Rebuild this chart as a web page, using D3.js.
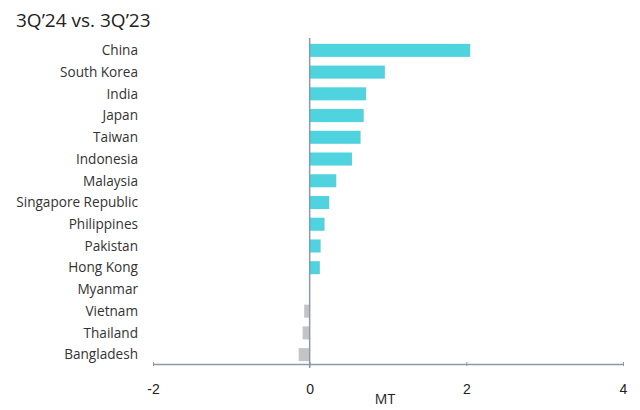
<head>
	<meta charset="utf-8">
	<script src="https://d3js.org/d3.v7.min.js"></script>
	<style type="text/css">
		body { margin: 0; background: #fff; }
		text { font-family: 'Open Sans', 'Noto Sans', sans-serif; }
	</style>
</head>
<body>
	<script type="text/javascript">
		const countries = ['China', 'South Korea', 'India', 'Japan', 'Taiwan', 'Indonesia', 'Malaysia',
			'Singapore Republic', 'Philippines', 'Pakistan', 'Hong Kong', 'Myanmar', 'Vietnam', 'Thailand', 'Bangladesh']
		const change = [2.05, 0.96, 0.72, 0.69, 0.65, 0.54, 0.34, 0.25, 0.19, 0.14, 0.13, 0, -0.07, -0.09, -0.14]
		const xTicks = [-2, 0, 2, 4]

		const data = countries.map((c, i) => ({country: c, value: change[i]}))

		const svg = d3.select('body').append('svg')
			.attr('width', 640)
			.attr('height', 410)

		const x = d3.scaleLinear().domain([-2, 4]).range([153, 623])
		const y = d3.scaleBand().domain(countries).range([39.5, 365.5]).paddingInner(0.4).paddingOuter(0.2)

		svg.append('text')
			.attr('x', 16).attr('y', 27)
			.attr('font-size', 19)
			.attr('fill', '#222')
			.text('3Q\u201924 vs. 3Q\u201923')

		svg.append('g').selectAll('rect')
			.data(data)
			.enter().append('rect')
			.attr('x', d => x(Math.min(0, d.value)))
			.attr('y', d => y(d.country))
			.attr('width', d => Math.abs(x(d.value) - x(0)))
			.attr('height', y.bandwidth())
			.attr('fill', d => d.value < 0 ? '#c4c4c4' : '#4ed3df')

		// x axis
		const xAxis = svg.append('g')
			.attr('transform', 'translate(0,364)')
			.call(d3.axisTop(x).tickValues(xTicks).tickSize(4).tickFormat(d => String(d)).tickSizeOuter(0))
		xAxis.select('.domain').attr('stroke', '#8c9aa8').attr('stroke-width', 1.5)
		xAxis.selectAll('.tick line').attr('stroke', '#8c9aa8').attr('transform', 'translate(0,2)')
		xAxis.selectAll('.tick text')
			.attr('y', 30).attr('dy', 0)
			.attr('font-size', 14).attr('fill', '#222')
			.style('font-family', "'Liberation Sans', sans-serif")

		// zero line
		svg.append('line')
			.attr('x1', x(0)).attr('x2', x(0))
			.attr('y1', 38).attr('y2', 368)
			.attr('stroke', '#8c9aa8').attr('stroke-width', 1.5)

		// category labels
		svg.append('g').selectAll('text')
			.data(data)
			.enter().append('text')
			.attr('x', 138)
			.attr('y', d => y(d.country) + y.bandwidth() / 2)
			.attr('dy', '0.35em')
			.attr('text-anchor', 'end')
			.attr('font-size', 13.6)
			.attr('fill', '#333')
			.text(d => d.country)

		svg.append('text')
			.attr('x', 385).attr('y', 404)
			.attr('text-anchor', 'middle')
			.attr('font-size', 14).attr('fill', '#222')
			.text('MT')
	</script>
</body>
